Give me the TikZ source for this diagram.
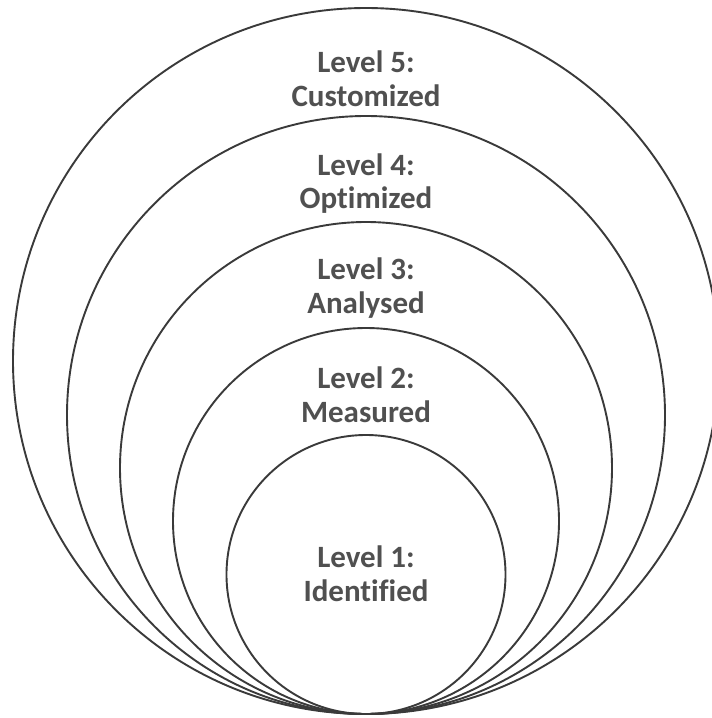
\documentclass[tikz,border=0pt]{standalone}
\usepackage{fontspec}
\setmainfont[RawFeature={-liga;-clig;-dlig}]{Carlito}
\definecolor{ringcol}{HTML}{3A3A3A}
\definecolor{txtcol}{HTML}{505050}
\tikzset{
  ring/.style={draw=ringcol, line width=1.9pt},
  lvl/.style={text=txtcol, font=\bfseries\fontsize{31}{34}\selectfont, anchor=base, inner sep=0pt}
}
\begin{document}
\begin{tikzpicture}[x=1pt,y=-1pt]
\useasboundingbox (0,0) rectangle (712,718);
\clip (0,0) rectangle (712,718);
\fill[white] (0,0) rectangle (712,718);
\draw[ring] (366,361) circle (353);
\draw[ring] (366,415) circle (299);
\draw[ring] (366,468) circle (246);
\draw[ring] (366,521) circle (193);
\draw[ring] (366,574.5) circle (139.5);
\node[lvl] (l5a) at (366,72) {Level 5:};
\node[lvl] (l5b) at (366,106) {Customized};
\node[lvl] (l4a) at (366,175) {Level 4:};
\node[lvl] (l4b) at (366,208) {Optimized};
\node[lvl] (l3a) at (366,279) {Level 3:};
\node[lvl] (l3b) at (366,313) {Analysed};
\node[lvl] (l2a) at (366,388) {Level 2:};
\node[lvl] (l2b) at (366,422) {Measured};
\node[lvl] (l1a) at (366,567) {Level 1:};
\node[lvl] (l1b) at (366,601) {Identified};
\end{tikzpicture}
\end{document}
